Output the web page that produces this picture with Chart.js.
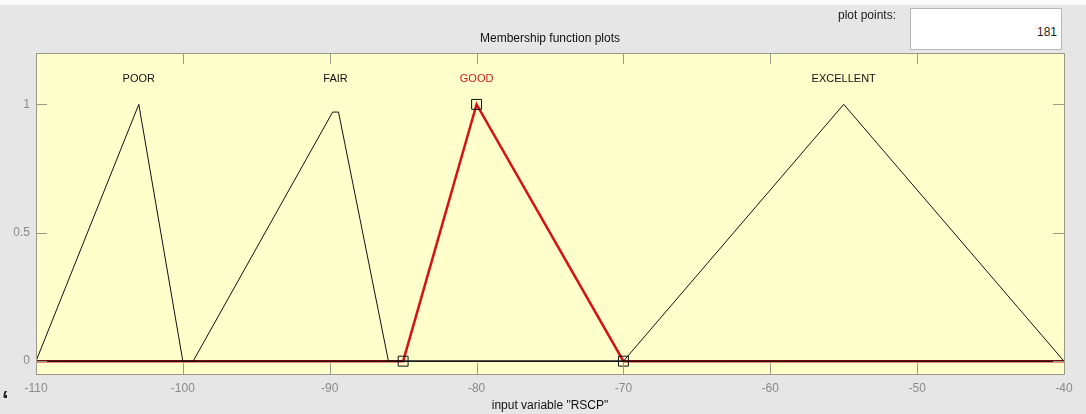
<!DOCTYPE html>
<html>
<head>
<meta charset="utf-8">
<script src="https://cdn.jsdelivr.net/npm/chart.js@4/dist/chart.umd.min.js"></script>
<style>
    html, body { margin: 0; padding: 0; background: #e6e6e6; }
    #wrap { position: relative; width: 1086px; height: 414px; background: #e6e6e6; font-family: "Liberation Sans", Arial, sans-serif; }
    #topband { position: absolute; left: 0; top: 0; width: 1086px; height: 5px; background: #fbfbfb; }
    #pp-label { position: absolute; right: 190px; top: 8px; font-size: 12px; color: #222; }
    #pp-box { position: absolute; left: 910px; top: 8px; width: 150px; height: 40px; background: #fff; border: 1px solid #b8b8b8; }
    #pp-val { position: absolute; right: 4px; top: 16px; font-size: 12px; color: #222; }
    #quote { position: absolute; left: 2px; top: 386px; font-size: 24px; font-weight: bold; color: #222; }
    #chart { position: absolute; left: 0; top: 0; }
</style>
</head>
<body>
<div id="wrap">
    <div id="topband"></div>
    <canvas id="chart" width="1086" height="414"></canvas>
    <div id="pp-label">plot points:</div>
    <div id="pp-box"><span id="pp-val">181</span></div>
    <span id="quote">‘</span>
</div>
<script>
// Membership functions of input variable "RSCP"
const mfNames = ['POOR', 'FAIR', 'GOOD', 'EXCELLENT'];
const mfLabelX = [-103, -89.6, -80, -55];
const mfLabelY = 1.1;

const poorX = [-110, -103, -100, -40];
const poorY = [0, 1, 0, 0];
const fairX = [-110, -99.3, -89.8, -89.4, -86, -40];
const fairY = [0, 0, 0.97, 0.97, 0, 0];
const goodX = [-110, -85, -80, -70, -40];
const goodY = [0, 0, 1, 0, 0];
const excellentX = [-110, -70, -55, -40];
const excellentY = [0, 0, 1, 0];

// selected MF parameter handles
const handleX = [-85, -80, -70];
const handleY = [0, 1, 0];

const yTicks = [0, 0.5, 1];

const toPoints = (xs, ys) => xs.map((x, i) => ({ x: x, y: ys[i] }));

const frameColor = '#9a9a88';

// yellow plot background, frame, inward tick marks and MF names
const plotDecor = {
    id: 'plotDecor',
    beforeDatasetsDraw(chart) {
        const { ctx, chartArea: a } = chart;
        ctx.save();
        ctx.fillStyle = '#ffffcc';
        ctx.fillRect(a.left, a.top, a.right - a.left, a.bottom - a.top);
        ctx.restore();
    },
    afterDatasetsDraw(chart) {
        const { ctx, chartArea: a, scales } = chart;
        ctx.save();
        ctx.strokeStyle = frameColor;
        ctx.lineWidth = 1;
        ctx.beginPath();
        scales.x.ticks.forEach(t => {
            const px = Math.round(scales.x.getPixelForValue(t.value)) + 0.5;
            ctx.moveTo(px, a.bottom); ctx.lineTo(px, a.bottom - 11);
            ctx.moveTo(px, a.top); ctx.lineTo(px, a.top + 11);
        });
        scales.y.ticks.forEach(t => {
            const py = Math.round(scales.y.getPixelForValue(t.value)) + 0.5;
            ctx.moveTo(a.left, py); ctx.lineTo(a.left + 11, py);
            ctx.moveTo(a.right, py); ctx.lineTo(a.right - 11, py);
        });
        ctx.stroke();
        ctx.strokeRect(Math.round(a.left) + 0.5, Math.round(a.top) + 0.5,
            Math.round(a.right - a.left), Math.round(a.bottom - a.top));

        ctx.font = '11px "Liberation Sans", Arial, sans-serif';
        ctx.textAlign = 'center';
        ctx.textBaseline = 'middle';
        mfNames.forEach((name, i) => {
            ctx.fillStyle = name === 'GOOD' ? '#cc1a1a' : '#111';
            ctx.fillText(name, scales.x.getPixelForValue(mfLabelX[i]), scales.y.getPixelForValue(mfLabelY));
        });
        ctx.restore();
    }
};

const lineStyle = { showLine: true, pointRadius: 0, borderColor: '#111', borderWidth: 1, tension: 0, order: 0 };

new Chart(document.getElementById('chart'), {
    type: 'scatter',
    data: {
        datasets: [
            {
                label: 'handles',
                data: toPoints(handleX, handleY),
                showLine: false,
                pointStyle: 'rect',
                pointRadius: 7,
                pointBackgroundColor: 'rgba(0,0,0,0)',
                pointBorderColor: '#111',
                pointBorderWidth: 1,
                order: -1
            },
            Object.assign({ label: 'POOR', data: toPoints(poorX, poorY) }, lineStyle),
            Object.assign({ label: 'FAIR', data: toPoints(fairX, fairY) }, lineStyle),
            Object.assign({ label: 'EXCELLENT', data: toPoints(excellentX, excellentY) }, lineStyle),
            {
                label: 'GOOD',
                data: toPoints(goodX, goodY),
                showLine: true,
                pointRadius: 0,
                borderColor: '#d41414',
                borderWidth: 2.5,
                tension: 0,
                order: 1
            }
        ]
    },
    options: {
        responsive: false,
        animation: false,
        events: [],
        layout: { padding: { left: 0, right: 22, top: 0, bottom: 0 } },
        plugins: {
            legend: { display: false },
            tooltip: { enabled: false },
            title: {
                display: true,
                text: 'Membership function plots',
                fullSize: false,
                color: '#111',
                font: { family: '"Liberation Sans", Arial, sans-serif', size: 12, weight: 'normal' },
                padding: { top: 31, bottom: 7.6 }
            }
        },
        scales: {
            x: {
                type: 'linear',
                min: -110,
                max: -40,
                grid: { display: false, drawTicks: false },
                border: { display: false },
                ticks: {
                    stepSize: 10,
                    padding: 7,
                    color: '#8a8a8a',
                    font: { family: '"Liberation Sans", Arial, sans-serif', size: 12 }
                },
                title: {
                    display: true,
                    text: 'input variable "RSCP"',
                    color: '#111',
                    font: { family: '"Liberation Sans", Arial, sans-serif', size: 12 },
                    padding: { top: 0, bottom: 1 }
                },
                afterFit(scale) { scale.height = 40; }
            },
            y: {
                type: 'linear',
                min: -0.05,
                max: 1.2,
                grid: { display: false, drawTicks: false },
                border: { display: false },
                afterBuildTicks(scale) { scale.ticks = yTicks.map(v => ({ value: v })); },
                ticks: {
                    padding: 6,
                    color: '#8a8a8a',
                    font: { family: '"Liberation Sans", Arial, sans-serif', size: 12 },
                    callback: v => String(v)
                },
                afterFit(scale) { scale.width = 36; }
            }
        }
    },
    plugins: [plotDecor]
});
</script>
</body>
</html>
